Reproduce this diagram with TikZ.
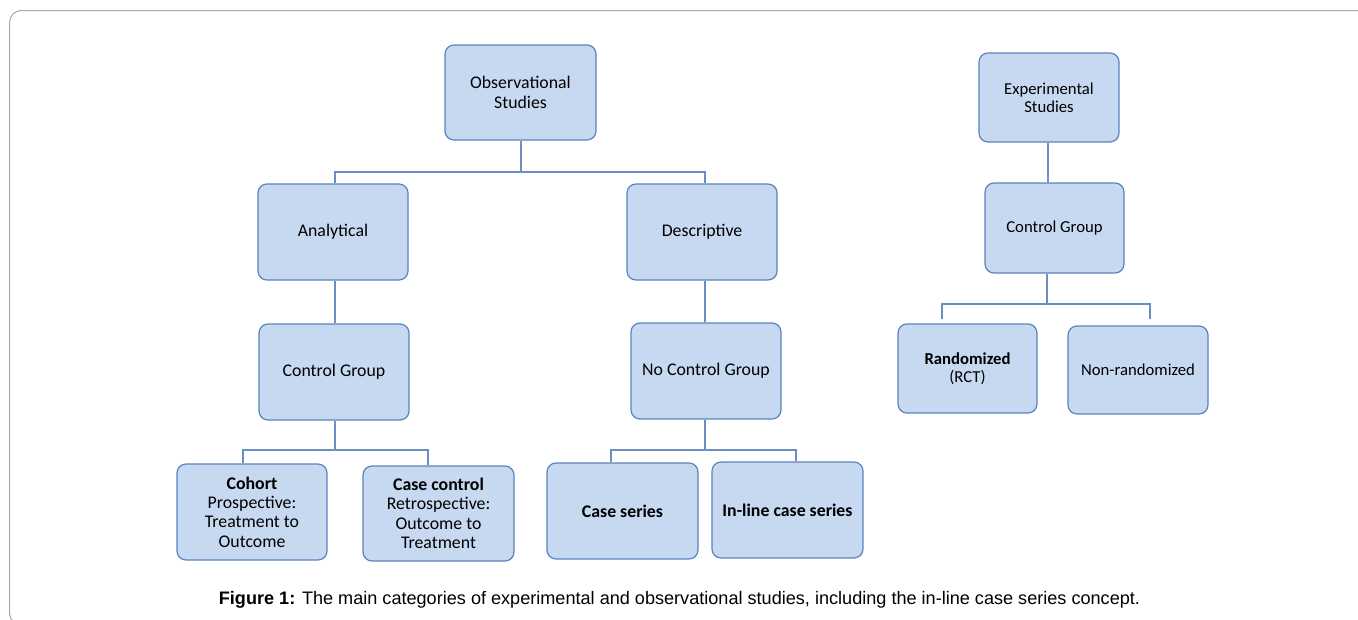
\documentclass[tikz,border=0pt]{standalone}
\usepackage{fontspec}
\setmainfont{Carlito}
\newfontfamily\capfont{Liberation Sans}
\definecolor{boxfill}{HTML}{C6D9F1}
\definecolor{boxline}{HTML}{5B84BD}
\definecolor{linkcol}{HTML}{6A8FC2}
\definecolor{framecol}{HTML}{A8A8A8}
\begin{document}
\begin{tikzpicture}[x=1pt,y=-1pt,
  box/.style={draw=boxline, fill=boxfill, line width=1.2pt, rounded corners=9pt,
    align=center, inner sep=0pt, font=\fontsize{17.8}{19.4}\selectfont},
  sbox/.style={box, font=\fontsize{16.7}{17.8}\selectfont},
  link/.style={draw=linkcol, line width=1.4pt}]
\useasboundingbox (0,0) rectangle (1358,619);
\clip (0,0) rectangle (1358,619);
\fill[white] (0,0) rectangle (1358,619);
% frame
\draw[framecol, line width=1pt, rounded corners=12pt] (1400,10.5) -- (9.5,10.5) -- (9.5,625) -- (1400,625);
% nodes
\node[box, minimum width=151pt, minimum height=95pt] (obs) at (520.5,92.5) {Observational\\Studies};
\node[box, minimum width=150pt, minimum height=96pt] (ana) at (333,232) {Analytical};
\node[box, minimum width=150pt, minimum height=96pt] (des) at (702,232) {Descriptive};
\node[box, minimum width=150pt, minimum height=96pt] (cgl) at (334,372) {Control Group};
\node[box, minimum width=150pt, minimum height=96pt] (ncg) at (706,371) {No Control Group};
\node[box, minimum width=150pt, minimum height=96pt] (coh) at (252,512) {\textbf{Cohort}\\Prospective:\\Treatment to\\Outcome};
\node[box, minimum width=151pt, minimum height=95pt] (cc) at (438.5,513.5) {\textbf{Case control}\\Retrospective:\\Outcome to\\Treatment};
\node[box, minimum width=151pt, minimum height=96pt] (cs) at (622.5,511) {\textbf{Case series}};
\node[box, minimum width=151pt, minimum height=96pt] (ilcs) at (787.5,510) {\textbf{In-line case series}};
\node[sbox, minimum width=140pt, minimum height=89pt] (exp) at (1049,97.5) {Experimental\\Studies};
\node[sbox, minimum width=139pt, minimum height=90pt] (cgr) at (1054.5,228) {Control Group};
\node[sbox, minimum width=139pt, minimum height=89pt] (rnd) at (967.5,368.5) {\textbf{Randomized}\\(RCT)};
\node[sbox, minimum width=140pt, minimum height=88pt] (nrd) at (1138,370) {Non-randomized};
% junctions
\coordinate (j1) at (521,172);
\coordinate (j2) at (335,450);
\coordinate (l1) at (243,463);
\coordinate (l2) at (428,465);
\coordinate (j3) at (705,450);
\coordinate (l3) at (611,462);
\coordinate (l4) at (796,461);
\coordinate (j4) at (1047,304);
\coordinate (l5) at (942,319);
\coordinate (l6) at (1150,319);
% connectors
\draw[link] (obs.south -| j1) -- (j1);
\draw[link] (ana.north -| 335,0) |- (j1) -| (des.north -| 705,0);
\draw[link] (ana.south -| 335,0) -- (cgl.north -| 335,0);
\draw[link] (des.south -| 705,0) -- (ncg.north -| 705,0);
\draw[link] (cgl.south -| j2) -- (j2);
\draw[link] (l1) |- (j2) -| (l2);
\draw[link] (ncg.south -| j3) -- (j3);
\draw[link] (l3) |- (j3) -| (l4);
\draw[link] (exp.south -| 1048,0) -- (cgr.north -| 1048,0);
\draw[link] (cgr.south -| j4) -- (j4);
\draw[link] (l5) |- (j4) -| (l6);
% caption
\node[font=\capfont\fontsize{18.1}{21}\selectfont, anchor=center] (cap) at (679.5,600)
  {\textbf{Figure 1:} The main categories of experimental and observational studies, including the in-line case series concept.};
\end{tikzpicture}
\end{document}
